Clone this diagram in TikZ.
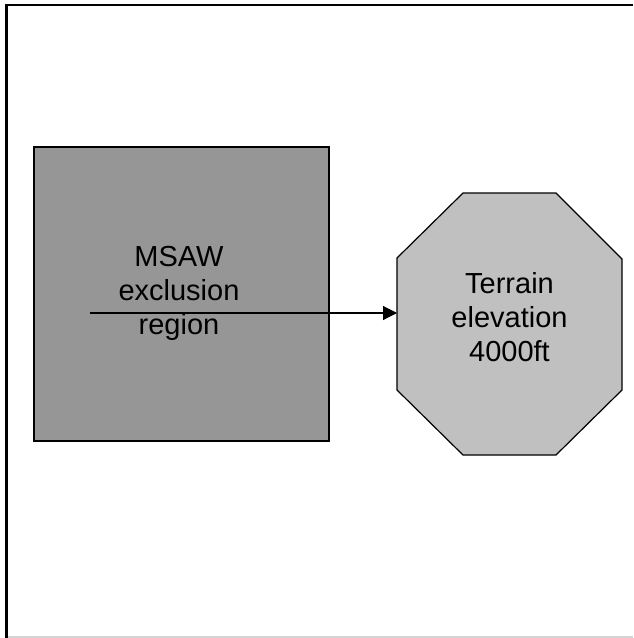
\documentclass[tikz,border=0pt]{standalone}
\usepackage{fontspec}
\setmainfont{Liberation Sans}
\usetikzlibrary{arrows.meta}
\definecolor{darkbox}{HTML}{969696}
\definecolor{lightbox}{HTML}{C0C0C0}
\definecolor{edgegray}{HTML}{D4D4D4}
\tikzset{
  label text/.style={align=center, inner sep=0pt, font=\fontsize{29}{34}\selectfont},
  shape edge/.style={draw=black, line width=1.2pt},
  connector/.style={line width=1.2pt, -{Triangle[length=14pt,width=14pt]}},
}
\begin{document}
\begin{tikzpicture}[x=1pt,y=-1pt]
\useasboundingbox (0,0) rectangle (633,638);
\fill[white] (0,0) rectangle (633,638);
% frame
\draw[edgegray, line width=1.2pt] (6.5,637) -- (633,637);
\draw[black, line width=2.2pt] (6.5,638) -- (6.5,5) -- (633,5);
% square region
\node[shape edge, fill=darkbox, minimum width=295pt, minimum height=294pt, inner sep=0pt, outer sep=0pt] (msaw) at (181.5,294) {};
% octagon
\coordinate (o1) at (463,193);
\coordinate (o2) at (556,193);
\coordinate (o3) at (622,259);
\coordinate (o4) at (622,390);
\coordinate (o5) at (556,455);
\coordinate (o6) at (463,455);
\coordinate (o7) at (397,390);
\coordinate (o8) at (397,258);
\filldraw[shape edge, fill=lightbox] (o1) -- (o2) -- (o3) -- (o4) -- (o5) -- (o6) -- (o7) -- (o8) -- cycle;
\coordinate (octwest) at (397,313);
% labels
\node[label text] (msawtext) at (179,293) {MSAW\\exclusion\\region};
\node[label text] (terraintext) at (509.5,317) {Terrain\\elevation\\4000ft};
% connector
\coordinate (arrowstart) at (90,313);
\draw[connector] (arrowstart) -- (octwest);
\end{tikzpicture}
\end{document}
